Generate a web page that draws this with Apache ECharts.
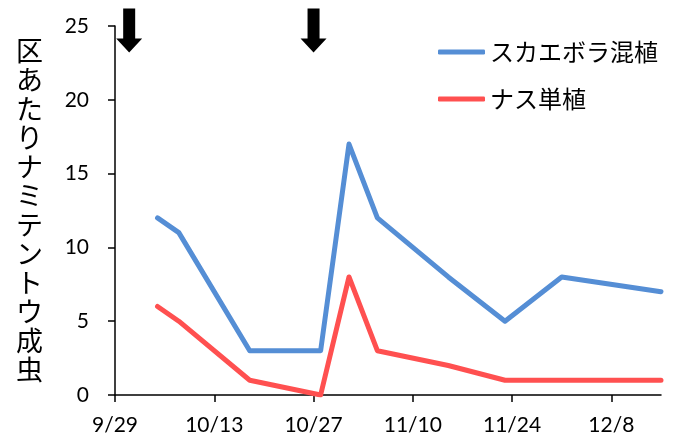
<!DOCTYPE html>
<html>
<head>
<meta charset="utf-8">
<script src="https://cdn.jsdelivr.net/npm/echarts@6/dist/echarts.min.js"></script>
<style>
  html, body { margin: 0; padding: 0; background: #fff; }
  #chart { width: 674px; height: 444px; }
</style>
</head>
<body>
<div id="chart"></div>
<script>
// 調査日（9/29 からの日数に変換して値軸に載せる）
const dates = ['10/5', '10/8', '10/18', '10/28', '11/1', '11/5', '11/15', '11/23', '12/1', '12/15'];
const mixedValues = [12, 11, 3, 3, 17, 12, 8, 5, 8, 7];   // スカエボラ混植
const singleValues = [6, 5, 1, 0, 8, 3, 2, 1, 1, 1];      // ナス単植
const arrowDates = ['10/1', '10/27'];
const tickDates = ['9/29', '10/13', '10/27', '11/10', '11/24', '12/8'];
const seriesNames = ['スカエボラ混植', 'ナス単植'];
const yTitle = '区あたりナミテントウ成虫';

const startDate = '9/29';
const endDate = '12/15';

function toDay(md) {
    var p = md.split('/');
    var s = startDate.split('/');
    var t = Date.UTC(2001, +p[0] - 1, +p[1]);
    var t0 = Date.UTC(2001, +s[0] - 1, +s[1]);
    return Math.round((t - t0) / 86400000);
}
function fromDay(d) {
    var s = startDate.split('/');
    var dt = new Date(Date.UTC(2001, +s[0] - 1, +s[1]) + d * 86400000);
    return (dt.getUTCMonth() + 1) + '/' + dt.getUTCDate();
}

var chart = echarts.init(document.getElementById('chart'));

var latin = 'Lato, "Noto Sans", sans-serif';
var cjk = '"Noto Sans CJK JP", sans-serif';

var option = {
    animation: false,
    grid: { left: 115, right: 13, top: 26, bottom: 49, containLabel: false },
    legend: {
        orient: 'vertical',
        left: 433,
        top: 35,
        icon: 'roundRect',
        itemWidth: 47,
        itemHeight: 5,
        itemGap: 23,
        textStyle: { fontFamily: cjk, fontSize: 24, lineHeight: 24, color: '#000' },
        data: seriesNames
    },
    xAxis: {
        type: 'value',
        min: 0,
        max: toDay(endDate),
        interval: 14,
        splitLine: { show: false },
        axisLine: { lineStyle: { color: '#000', width: 1.5 } },
        axisTick: {
            length: 7,
            lineStyle: { color: '#000', width: 1.5 },
            customValues: tickDates.map(toDay)
        },
        axisLabel: {
            margin: 20,
            fontFamily: latin,
            fontSize: 21,
            color: '#000',
            customValues: tickDates.map(toDay),
            formatter: function (v) { return fromDay(v); }
        }
    },
    yAxis: {
        type: 'value',
        min: 0,
        max: 25,
        interval: 5,
        name: yTitle.split('').join('\n'),
        nameLocation: 'middle',
        nameRotate: 0,
        nameGap: 72,
        nameTextStyle: {
            fontFamily: cjk,
            fontSize: 27,
            lineHeight: 29,
            color: '#000',
            padding: [10, 0, 0, 0]
        },
        splitLine: { show: false },
        axisLine: { show: true, lineStyle: { color: '#000', width: 1.5 } },
        axisTick: { show: true, length: 7, lineStyle: { color: '#000', width: 1.5 } },
        axisLabel: { margin: 26, fontFamily: latin, fontSize: 21, color: '#000' }
    },
    series: [
        {
            name: seriesNames[0],
            type: 'line',
            symbol: 'none',
            color: '#558ED5',
            lineStyle: { width: 5, cap: 'round', join: 'round' },
            data: dates.map(function (d, i) { return [toDay(d), mixedValues[i]]; }),
            markPoint: {
                symbol: 'path://M7,0L19,0L19,30L26,30L13,44L0,30L7,30Z',
                symbolSize: [26, 44],
                itemStyle: { color: '#000' },
                label: { show: false },
                data: arrowDates.map(function (d) { return { coord: [toDay(d), 24.7] }; })
            }
        },
        {
            name: seriesNames[1],
            type: 'line',
            symbol: 'none',
            color: '#FF5050',
            lineStyle: { width: 5, cap: 'round', join: 'round' },
            data: dates.map(function (d, i) { return [toDay(d), singleValues[i]]; })
        }
    ]
};
chart.setOption(option);
</script>
</body>
</html>
